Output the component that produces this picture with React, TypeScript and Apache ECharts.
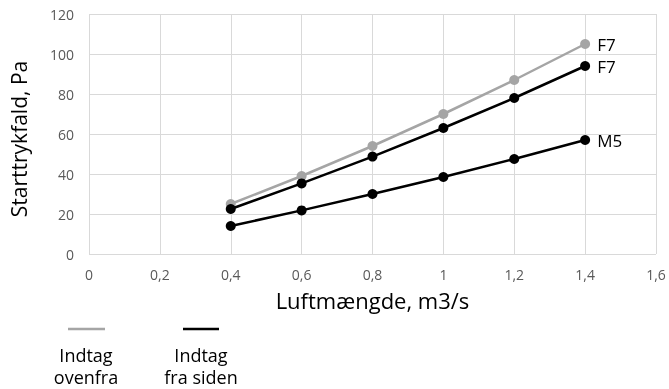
import React, { useEffect, useRef } from "react";
import * as echarts from "echarts";

const xValues = [0.4, 0.6, 0.8, 1.0, 1.2, 1.4];
const ovenfraF7 = [25, 39, 54, 70, 87, 105];
const sidenF7 = [22.5, 35.3, 48.7, 63, 78, 94];
const sidenM5 = [14, 21.8, 30, 38.5, 47.5, 57];
const endLabels = ["F7", "F7", "M5"];
const seriesNames = ["Indtag ovenfra", "Indtag fra siden", "Indtag fra siden"];
const xTicks = { min: 0, max: 1.6, interval: 0.2 };
const yTicks = { min: 0, max: 120, interval: 20 };

const FONT = "'Open Sans', 'Noto Sans', sans-serif";

function makeData(vals: number[], label: string) {
  return vals.map((v, i) => {
    const item: any = { value: [xValues[i], v] };
    if (i === vals.length - 1) {
      item.label = {
        show: true,
        position: "right",
        distance: 7,
        formatter: label,
        color: "#000",
        fontSize: 17,
        fontFamily: FONT,
      };
    }
    return item;
  });
}

export default function App() {
  const ref = useRef<HTMLDivElement>(null);
  useEffect(() => {
    if (!ref.current) return;
    const chart = echarts.init(ref.current, undefined, { renderer: "svg" });
    const colors = ["#a5a5a5", "#000000", "#000000"];
    const datasets = [ovenfraF7, sidenF7, sidenM5];
    chart.setOption({
      animation: false,
      grid: { left: 87, right: 13, top: 14, bottom: 135, containLabel: false },
      xAxis: {
        type: "value",
        min: xTicks.min,
        max: xTicks.max,
        interval: xTicks.interval,
        name: "Luftmængde, m3/s",
        nameLocation: "middle",
        nameGap: 35,
        nameTextStyle: { fontSize: 22, color: "#000", fontFamily: FONT },
        axisLine: { show: false },
        axisTick: { show: false },
        axisLabel: {
          color: "#595959",
          fontSize: 14,
          fontFamily: FONT,
          margin: 13,
          formatter: (v: number) => String(Math.round(v * 10) / 10).replace(".", ","),
        },
        splitLine: { show: true, lineStyle: { color: "#d9d9d9", width: 1 } },
      },
      yAxis: {
        type: "value",
        min: yTicks.min,
        max: yTicks.max,
        interval: yTicks.interval,
        name: "Starttrykfald, Pa",
        nameLocation: "middle",
        nameGap: 60,
        nameTextStyle: { fontSize: 21, color: "#000", fontFamily: FONT, padding: [0, 10, 0, 0] },
        axisLine: { show: false },
        axisTick: { show: false },
        axisLabel: { color: "#595959", fontSize: 14, fontFamily: FONT, margin: 15 },
        splitLine: { show: true, lineStyle: { color: "#d9d9d9", width: 1 } },
      },
      series: datasets.map((d, i) => ({
        type: "line",
        name: seriesNames[i],
        data: makeData(d, endLabels[i]),
        symbol: "circle",
        symbolSize: 10,
        lineStyle: { color: colors[i], width: 2.5 },
        itemStyle: { color: colors[i] },
        z: i === 0 ? 2 : 3,
      })),
      graphic: [
        { type: "line", shape: { x1: 68, y1: 329, x2: 105, y2: 329 }, style: { stroke: "#a5a5a5", lineWidth: 2.5 } },
        { type: "line", shape: { x1: 183, y1: 329, x2: 219, y2: 329 }, style: { stroke: "#000", lineWidth: 2.5 } },
        {
          type: "text",
          x: 86,
          y: 344,
          style: { text: "Indtag\novenfra", fill: "#000", font: `18px ${FONT}`, align: "center", lineHeight: 22 },
        },
        {
          type: "text",
          x: 201,
          y: 344,
          style: { text: "Indtag\nfra siden", fill: "#000", font: `18px ${FONT}`, align: "center", lineHeight: 22 },
        },
      ],
    });
    return () => chart.dispose();
  }, []);
  return <div ref={ref} style={{ position: "fixed", left: 0, top: 0, width: 669, height: 389 }} />;
}
